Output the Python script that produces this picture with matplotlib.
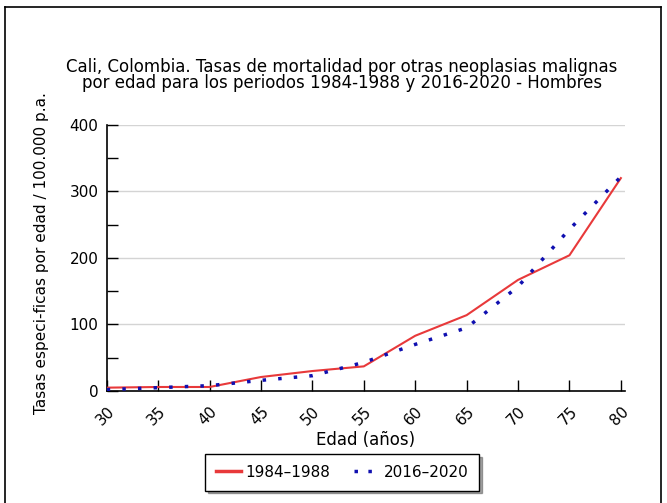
import matplotlib
matplotlib.use("Agg")
import matplotlib.pyplot as plt
from matplotlib.lines import Line2D

plt.rcParams.update({"font.family": "DejaVu Sans", "font.size": 10.5})

ages = [30, 35, 40, 45, 50, 55, 60, 65, 70, 75, 80]
tasas_1984_1988 = [5, 6, 6, 21, 30, 37, 83, 114, 167, 204, 320]
tasas_2016_2020 = [2, 5, 8, 16, 23, 43, 70, 95, 157, 243, 322]
y_ticks_major = [0, 100, 200, 300, 400]
y_ticks_all = [0, 50, 100, 150, 200, 250, 300, 350, 400]

RED, BLUE = "#e8393a", "#1010b0"

fig = plt.figure(figsize=(6.67, 5.03), dpi=100)
ax = fig.add_axes([0.160, 0.2227, 0.777, 0.529])

for v in y_ticks_major[1:]:
    ax.axhline(v, color="#d4d4d4", lw=1, zorder=1)

ax.plot(ages, tasas_1984_1988, color=RED, lw=1.5, zorder=3)
ax.plot(ages, tasas_2016_2020, color=BLUE, lw=2.5, ls=(0, (1, 3.5)), zorder=4)

ax.set_xlim(30, 80.4)
ax.set_ylim(0, 400)
ax.set_xticks(ages)
ax.set_xticklabels([str(a) for a in ages], rotation=45, ha="right", va="top",
                   rotation_mode="anchor", fontsize=11)
ax.set_yticks(y_ticks_all)
ax.set_yticklabels([str(v) if v in y_ticks_major else "" for v in y_ticks_all],
                   fontsize=11)
ax.tick_params(direction="in", length=8, width=1, colors="black", pad=6)
ax.tick_params(axis="x", pad=9)
for s in ["top", "right"]:
    ax.spines[s].set_visible(False)
for s in ["left", "bottom"]:
    ax.spines[s].set_linewidth(1.2)

ax.set_xlabel("Edad (años)", fontsize=12, labelpad=2)
ax.set_ylabel("Tasas especi-ficas por edad / 100.000 p.a.", fontsize=11)
ax.yaxis.set_label_coords(-0.112, 0.52)

fig.text(0.513, 0.851, "Cali, Colombia. Tasas de mortalidad por otras neoplasias malignas\n"
         "por edad para los periodos 1984-1988 y 2016-2020 - Hombres",
         ha="center", va="center", fontsize=12, linespacing=0.82)

handles = [Line2D([], [], color=RED, lw=2.5),
           Line2D([], [], color=BLUE, lw=2.5, ls=(0, (1, 3)))]
leg = fig.legend(handles, ["1984\u20131988", "2016\u20132020"], loc="center",
                 bbox_to_anchor=(0.513, 0.061), ncol=2, fontsize=11, frameon=True,
                 fancybox=False, shadow=True, handlelength=1.6, handletextpad=0.3,
                 columnspacing=1.6, borderpad=0.7)
leg.get_frame().set_edgecolor("black")
leg.get_frame().set_linewidth(1.0)

# outer border of the original image
for xs, ys in [([0.0075, 0.0075], [0, 0.986]),
               ([0.0075, 0.991], [0.986, 0.986]),
               ([0.991, 0.991], [0, 0.986])]:
    fig.add_artist(Line2D(xs, ys, color="black", lw=1.2, transform=fig.transFigure))

fig.savefig("out.png", dpi=100)
